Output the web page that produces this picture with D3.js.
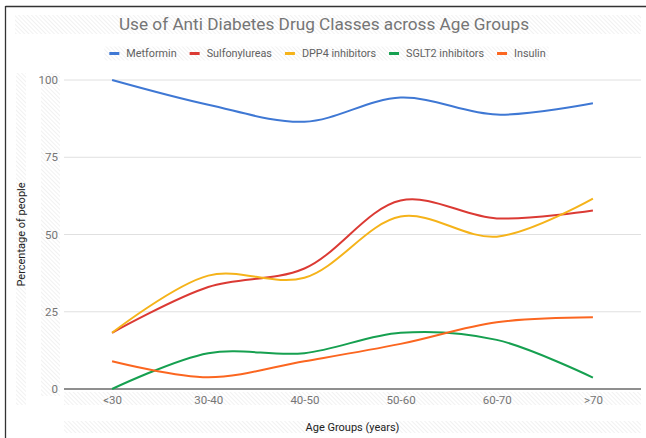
<!DOCTYPE html>
<html>
<head>
<meta charset="utf-8">
<script src="https://cdn.jsdelivr.net/npm/d3@7"></script>
<style>
  html, body { margin: 0; padding: 0; background: #fff; }
  svg { display: block; font-family: Roboto, "Noto Sans", Arial, sans-serif; }
</style>
</head>
<body>
<svg id="chart" width="646" height="438"></svg>
<script>
// Age groups on the x axis
const ageGroups = ["<30", "30-40", "40-50", "50-60", "60-70", ">70"];

// Share of people (%) using each drug class, per age group
const metformin     = [100, 92, 86.5, 94.3, 88.8, 92.5];
const sulfonylureas = [18.2, 33, 39, 61, 55.2, 57.8];
const dpp4          = [18.2, 36.7, 36, 55.8, 49.3, 61.6];
const sglt2         = [0, 11.6, 11.6, 18.2, 15.9, 3.7];
const insulin       = [9, 3.8, 9, 14.6, 21.6, 23.2];

const seriesNames  = ["Metformin", "Sulfonylureas", "DPP4 inhibitors", "SGLT2 inhibitors", "Insulin"];
const seriesValues = [metformin, sulfonylureas, dpp4, sglt2, insulin];
const seriesColors = ["#3f78d4", "#db3a34", "#f5b31a", "#16a050", "#fb6620"];

const yTicks = [0, 25, 50, 75, 100];

const svg = d3.select("#chart");
const W = 646, H = 438;

// Diagonal hatch used behind text areas
const defs = svg.append("defs");
const pat = defs.append("pattern")
  .attr("id", "hatch")
  .attr("patternUnits", "userSpaceOnUse")
  .attr("width", 3).attr("height", 3)
  .attr("patternTransform", "rotate(45)");
pat.append("rect").attr("width", 3).attr("height", 3).attr("fill", "#fff");
pat.append("line").attr("x1", 0).attr("y1", 0).attr("x2", 3).attr("y2", 0)
  .attr("stroke", "#eeeeee").attr("stroke-width", 1.6);

// Frame (top and left edges)
svg.append("line").attr("x1", 5.5).attr("x2", W).attr("y1", 6.5).attr("y2", 6.5)
  .attr("stroke", "#333").attr("stroke-width", 1.3);
svg.append("line").attr("x1", 5.5).attr("x2", 5.5).attr("y1", 6).attr("y2", H)
  .attr("stroke", "#333").attr("stroke-width", 1.3);

const margin = { left: 64, right: 5, top: 80, bottom: 49 };
const x = d3.scalePoint().domain(ageGroups)
  .range([margin.left, W - margin.right]).padding(0.5);
const y = d3.scaleLinear().domain([0, 100]).range([H - margin.bottom, margin.top]);

// Hatched text areas
const hatch = (x0, y0, w, h) => svg.append("rect")
  .attr("x", x0).attr("y", y0).attr("width", w).attr("height", h)
  .attr("fill", "url(#hatch)");
hatch(15, 15, 626, 19);                       // title
hatch(16, 73, 10, 332);                       // y axis title
hatch(41, 73, 19, 323);                       // y tick labels
hatch(margin.left, 392, W - margin.right - margin.left, 13);   // x tick labels
hatch(margin.left, 421, W - margin.right - margin.left, 12);   // x axis title

// Title
svg.append("text")
  .attr("x", 324).attr("y", 30)
  .attr("text-anchor", "middle")
  .attr("font-size", 17.2)
  .attr("fill", "#757575")
  .text("Use of Anti Diabetes Drug Classes across Age Groups");

// Legend
const legend = svg.append("g");
const legendItems = legend.selectAll("g").data(seriesNames).join("g");
legendItems.append("rect")
  .attr("width", 10).attr("height", 3).attr("y", -1.5)
  .attr("fill", (d, i) => seriesColors[i]);
legendItems.append("text")
  .attr("x", 17).attr("dy", "0.35em")
  .attr("font-size", 10.8).attr("fill", "#616161")
  .text(d => d);
let lx = 0;
const legendWidths = [];
legendItems.each(function () {
  const w = 17 + this.querySelector("text").getComputedTextLength();
  legendWidths.push(w);
});
const totalLegend = d3.sum(legendWidths) + 13 * (legendWidths.length - 1);
const legendStart = 327.5 - totalLegend / 2;
legend.insert("rect", ":first-child")
  .attr("x", -5).attr("y", -7).attr("height", 14).attr("width", totalLegend + 8)
  .attr("fill", "url(#hatch)");
legendItems.attr("transform", (d, i) => {
  const t = `translate(${lx},0)`;
  lx += legendWidths[i] + 13;
  return t;
});
legend.attr("transform", `translate(${legendStart},53.5)`);

// Gridlines
svg.append("g").selectAll("line").data(yTicks.filter(v => v > 0)).join("line")
  .attr("x1", margin.left).attr("x2", W - margin.right)
  .attr("y1", d => y(d)).attr("y2", d => y(d))
  .attr("stroke", "#e0e0e0").attr("stroke-width", 1);

// Y axis tick labels
const yAxis = svg.append("g")
  .attr("transform", `translate(${margin.left},0)`)
  .call(d3.axisLeft(y).tickValues(yTicks).tickSize(0).tickPadding(6));
yAxis.select(".domain").remove();
yAxis.selectAll("text")
  .attr("font-family", "Roboto, sans-serif")
  .attr("font-size", 11.5).attr("fill", "#757575");

// X axis labels
const xAxis = svg.append("g")
  .attr("transform", `translate(0,${y(0)})`)
  .call(d3.axisBottom(x).tickSize(0).tickPadding(7));
xAxis.select(".domain").remove();
xAxis.selectAll("text")
  .attr("font-family", "Roboto, sans-serif")
  .attr("font-size", 11.5).attr("fill", "#757575");

// Baseline
svg.append("line")
  .attr("x1", margin.left).attr("x2", W - margin.right)
  .attr("y1", y(0)).attr("y2", y(0))
  .attr("stroke", "#8f8f8f").attr("stroke-width", 1.8);

// Axis titles
svg.append("text")
  .attr("transform", `translate(24.5,${(margin.top + y(0)) / 2}) rotate(-90)`)
  .attr("text-anchor", "middle")
  .attr("font-size", 11).attr("fill", "#222")
  .text("Percentage of people");
svg.append("text")
  .attr("x", (margin.left + W - margin.right) / 2).attr("y", 430.5)
  .attr("text-anchor", "middle")
  .attr("font-size", 11).attr("fill", "#222")
  .text("Age Groups (years)");

// Smoothed series lines
const line = d3.line()
  .x((d, i) => x(ageGroups[i]))
  .y(d => y(d))
  .curve(d3.curveCatmullRom.alpha(0.5));

svg.append("g").selectAll("path").data(seriesValues).join("path")
  .attr("d", d => line(d))
  .attr("fill", "none")
  .attr("stroke", (d, i) => seriesColors[i])
  .attr("stroke-width", 2)
  .attr("stroke-linejoin", "round");
</script>
</body>
</html>
